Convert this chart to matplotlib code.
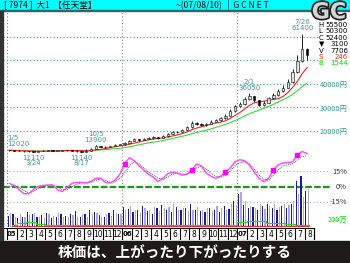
import matplotlib

matplotlib.use("Agg")
import matplotlib.pyplot as plt
import matplotlib.patheffects as pe
import numpy as np
import pandas as pd
from matplotlib.patches import Rectangle

W, H = 350, 263
JP = ["Noto Sans CJK JP", "DejaVu Sans"]

# half-month bars, Jan 2005 .. early Aug 2007 (Nintendo 7974)
closes = [11800, 11600, 11500, 11400, 11300, 11250, 11400, 11600, 11800, 11600, 11700, 11800,
          11900, 11700, 11300, 11250, 11500, 12300, 13500, 13300, 13200, 13600, 14000, 14300,
          15000, 15800, 16500, 16300, 16800, 17000, 17300, 17100, 17800, 18800, 19400, 19600,
          20500, 21500, 23500, 23000, 22500, 23000, 24000, 24500, 25500, 26500, 28500, 30500,
          31500, 33500, 35000, 33000, 31000, 32000, 34000, 35500, 37000, 38500, 41000, 45000,
          50000, 55000, 52400]
highs = [12020, 11900, 11800, 11600, 11500, 11450, 11600, 11800, 12000, 11900, 11900, 12000,
         12100, 12000, 11800, 11500, 12300, 12800, 13900, 13700, 13500, 13800, 14300, 14600,
         15300, 16200, 16900, 16800, 17200, 17400, 17800, 17600, 18300, 19200, 19900, 20200,
         21000, 22200, 24200, 24000, 23300, 23600, 24500, 25100, 26100, 27200, 29300, 31200,
         32500, 34500, 36050, 35000, 33200, 32800, 34500, 36300, 37800, 39500, 42000, 46500,
         52500, 61400, 55500]
lows = [11500, 11400, 11300, 11200, 11150, 11110, 11200, 11350, 11500, 11400, 11450, 11550,
        11650, 11500, 11200, 11140, 11200, 11400, 12200, 13000, 12900, 13100, 13500, 13900,
        14200, 14900, 15700, 15900, 16100, 16600, 16800, 16700, 17000, 17600, 18600, 19000,
        19400, 20300, 21300, 22400, 22000, 22300, 22800, 23800, 24300, 25300, 26200, 28200,
        30000, 31200, 33000, 32500, 30500, 30600, 31800, 33700, 35000, 36800, 38300, 40500,
        44500, 49500, 50300]
first_open = 11900

# deviation oscillator (%), two lines
osc_main = [3, 1, -3, -7, -7, -3, 0, 1, 1.5, 1.5, -3, -5,
            -1, 3, 4, 4, 3.5, 5, 8, 8, 4, 3.4, 6, 12,
            22, 28, 25, 20, 16, 12, 9, 5, 8, 12.5, 14, 13,
            11, 12, 16, 22, 20, 13, 10, 8, 10, 14, 18, 24,
            26, 25, 21, 14, 8, 4.5, 8, 16, 21, 23, 23, 24,
            31, 34, 32]
osc_slow = [0, 1, -1, -4, -6, -5, -2, 0, 1, 1.5, 0, -3,
            -3, 0, 2, 3.5, 3.5, 4, 6, 7.5, 6, 4, 4.5, 8,
            13, 20, 24, 22, 18, 14, 11, 8, 7, 9, 12, 13,
            12, 12, 14, 18, 20, 17, 13, 10, 9, 11, 15, 20,
            23, 24, 22, 17, 11, 7, 6, 11, 16, 20, 21, 22,
            26, 29, 30]
osc_marks = [24, 38, 45, 55, 60]

# volume (10k shares), two bar series per half month
vol_a = [330, 400, 250, 300, 450, 370, 280, 340, 420, 250, 300, 380,
         330, 400, 480, 300, 370, 520, 460, 350, 300, 430, 500, 400,
         600, 550, 450, 500, 620, 480, 400, 560, 650, 520, 450, 600,
         500, 560, 700, 520, 480, 450, 560, 500, 450, 640, 550, 800,
         1000, 650, 560, 600, 500, 620, 700, 560, 520, 640, 560, 700,
         1400, 1570, 1100]
vol_b = [420, 300, 380, 280, 350, 420, 300, 260, 380, 330, 420, 300,
         280, 350, 300, 400, 300, 380, 420, 300, 380, 330, 420, 380,
         500, 620, 520, 430, 560, 520, 600, 480, 560, 600, 700, 520,
         560, 480, 520, 600, 500, 560, 480, 620, 560, 520, 700, 650,
         1050, 800, 640, 560, 700, 540, 620, 680, 600, 700, 650, 800,
         1000, 900, 1150]

# credit balances (10k shares), monthly
credit_buy = [60, 120, 150, 90, 40, 40, 40, 50, 40, 40, 40, 40,
              50, 40, 40, 40, 40, 40, 40, 40, 40, 40, 40, 50,
              140, 170, 160, 110, 100, 90, 60, 40]
credit_sell = [15, 15, 20, 15, 15, 15, 10, 15, 15, 15, 15, 15,
               15, 15, 15, 15, 15, 15, 15, 15, 20, 15, 15, 15,
               15, 20, 20, 15, 15, 15, 15, 15]

month_labels = ["05", "2", "3", "4", "5", "6", "7", "8", "9", "10", "11", "12",
                "06", "2", "3", "4", "5", "6", "7", "8", "9", "10", "11", "12",
                "07", "2", "3", "4", "5", "6", "7", "8"]

price_notes = [(0, "1/5\n12020", "high"), (5, "11110\n3/24", "low"),
               (15, "11140\n8/17", "low"), (18, "10/5\n13900", "high"),
               (50, "2/1\n36050", "high"), (61, "7/26\n61400", "high")]

legend_rows = [("H", "55500", "black"), ("L", "50300", "black"), ("C", "52400", "black"),
               ("▼", "3100", "black"), ("V", "7706", "black"), ("S", "246", "#ff2020"),
               ("B", "1544", "#00dd00")]


def rect(x0, y0, x1, y1):
    return [x0 / W, 1 - y1 / H, (x1 - x0) / W, (y1 - y0) / H]


def fx(x):
    return x / W


def fy(y):
    return 1 - y / H


def month_x(px):
    return (px - 7) / 9.6


fig = plt.figure(figsize=(W / 100, H / 100), dpi=100)
fig.patch.set_facecolor("white")

# header bar, caption bar, left border
fig.patches.append(Rectangle((0, fy(10)), 1, 10 / H, transform=fig.transFigure,
                             color="#00ffff", zorder=0))
fig.patches.append(Rectangle((0, fy(10.8)), 1, 0.8 / H, transform=fig.transFigure,
                             color="#2a6a6a", zorder=1))
fig.patches.append(Rectangle((0, 0), 1, 22 / H, transform=fig.transFigure,
                             color="#1e1a18", zorder=0))
fig.patches.append(Rectangle((0, fy(240)), 2.5 / W, 229 / H, transform=fig.transFigure,
                             color="#333333", zorder=1))

X0, X1, Y0, Y1 = 3, 330, 10.5, 227
xlim = (month_x(X0), month_x(X1))
ax_p = fig.add_axes(rect(X0, Y0, X1, Y1))
ax_o = fig.add_axes(rect(X0, Y0, X1, Y1))
ax_v = fig.add_axes(rect(X0, Y0, X1, Y1))
for ax in (ax_p, ax_o, ax_v):
    ax.set_xlim(*xlim)
    ax.axis("off")
    ax.patch.set_alpha(0)

ax_p.set_ylim(20000 - (Y1 - 131) / 23.5 * 1e4, 20000 + (131 - Y0) / 23.5 * 1e4)
ax_o.set_ylim((186.5 - Y1) / 1.03, (186.5 - Y0) / 1.03)
ax_v.set_ylim((226.5 - Y1) * 30.8, (226.5 - Y0) * 30.8)

n = len(closes)
xs = np.arange(n) / 2 + 0.25
opens = [first_open] + closes[:-1]

# grid
grid_end = month_x(318)
for level in (20000, 30000, 40000, 50000, 60000):
    ax_p.hlines(level, xlim[0], grid_end, color="#3d9999", lw=0.8, ls=(0, (1, 2)))
for m in (0, 12, 24):
    ax_p.axvline(m, color="#888888", lw=0.8, ls=(0, (1, 2)))

# candles + moving averages
s = pd.Series(closes, dtype=float)
ax_p.plot(xs, s.rolling(12, min_periods=1).mean(), color="#33dd33", lw=0.8, zorder=3)
ax_p.plot(xs, s.rolling(6, min_periods=1).mean(), color="#ee2222", lw=0.8, zorder=3)
ax_p.vlines(xs, lows, highs, color="black", lw=0.6, zorder=4)
for x, o, c in zip(xs, opens, closes):
    up = c >= o
    ax_p.bar(x, max(abs(c - o), 120), bottom=min(o, c), width=0.24,
             color="#e0e0e0" if up else "black", edgecolor="black", lw=0.4, zorder=5)

for k, label, kind in price_notes:
    ha = "left" if k == 0 else "center"
    dx = -1.5 if k == 0 else 0
    if kind == "high":
        ax_p.annotate(label, (xs[k], highs[k]), xytext=(dx, 2), textcoords="offset points",
                      ha=ha, va="bottom", fontsize=5, color="#3a9a9a", linespacing=0.9)
    else:
        ax_p.annotate(label, (xs[k], lows[k]), xytext=(dx, -2), textcoords="offset points",
                      ha=ha, va="top", fontsize=5, color="#3a9a9a", linespacing=0.9)

# oscillator
ax_o.hlines(15, xlim[0], xlim[1], color="#9ab89a", lw=0.8, ls=(0, (1, 2)))
ax_o.hlines(0, xlim[0], xlim[1], color="#1a9a1a", lw=1.6, ls=(0, (3, 1)))
ax_o.hlines(-15, xlim[0], xlim[1], color="#9ab89a", lw=0.8, ls=(0, (1, 2)))
ax_o.plot(xs, osc_slow, color="#555555", lw=0.7, ls=(0, (1, 1)))
ax_o.plot(xs, osc_main, color="#ff44ff", lw=1.0)
ax_o.plot(xs[osc_marks], np.array(osc_main)[osc_marks], "s", color="#ff00ff", ms=2.5)

# volume
ax_v.bar(xs - 0.12, vol_a, width=0.13, color="#1c1c8c")
ax_v.bar(xs + 0.12, vol_b, width=0.13, color="#aaaad8")
mx = np.arange(len(credit_buy)) + 0.5
ax_v.plot(mx, credit_buy, color="#22dd22", lw=0.8, drawstyle="steps-mid")
ax_v.plot(mx, credit_sell, color="#ff2222", lw=0.9, drawstyle="steps-mid")

# month strip
ax_m = fig.add_axes(rect(X0, 227.5, X1, 239.5))
ax_m.set_xlim(*xlim)
ax_m.set_ylim(0, 1)
ax_m.axis("off")
ax_m.add_patch(Rectangle((xlim[0], 0), month_x(314) - xlim[0], 1, facecolor="white",
                         edgecolor="black", lw=0.8))
for i, lab in enumerate(month_labels):
    ax_m.axvline(i, color="black", lw=0.8)
    ax_m.text(i + 0.5, 0.45, lab, ha="center", va="center", color="black",
              fontsize=5.5 if len(lab) < 2 or i % 12 else 5,
              fontweight="bold" if i % 12 == 0 else "normal")
ax_m.axvline(len(month_labels), color="black", lw=0.8)

# header texts
fig.text(fx(4), fy(5.2), "[ 7974 ]  大1  【任天堂】", family=JP, fontsize=6.2,
         color="black", va="center", ha="left")
fig.text(fx(176), fy(5.2), "~(07/08/10)   |  G C N E T", family=JP, fontsize=6.2,
         color="black", va="center", ha="left")
fig.text(fx(329), fy(12.5), "GC", fontsize=16, fontweight="bold", color="#d4d4d4",
         ha="center", va="center",
         path_effects=[pe.withStroke(linewidth=2.5, foreground="#222222")])

# right legend
for i, (key, val, col) in enumerate(legend_rows):
    y = 25 + i * 6.4
    fig.text(fx(318.5), fy(y), key, fontsize=5, color=col, ha="left", va="center")
    fig.text(fx(348), fy(y), val, fontsize=5, color=col, ha="right", va="center")

for y, lab in ((85, "40000円"), (108.5, "30000円"), (132, "20000円")):
    fig.text(fx(348), fy(y), lab, family=JP, fontsize=5.3, color="#3a9a9a",
             ha="right", va="center")
for y, lab, col in ((172, "15%", "#333333"), (187, "0%", "#333333"),
                    (202.5, "-15%", "#333333"), (220, "200万", "#00dd00")):
    fig.text(fx(347), fy(y), lab, family=JP, fontsize=5.3, color=col,
             ha="right", va="center")

fig.text(0.5, fy(252), "株価は、上がったり下がったりする", family=JP, fontsize=10.5,
         fontweight="bold", color="white", ha="center", va="center")

fig.savefig("out.png", dpi=100)
